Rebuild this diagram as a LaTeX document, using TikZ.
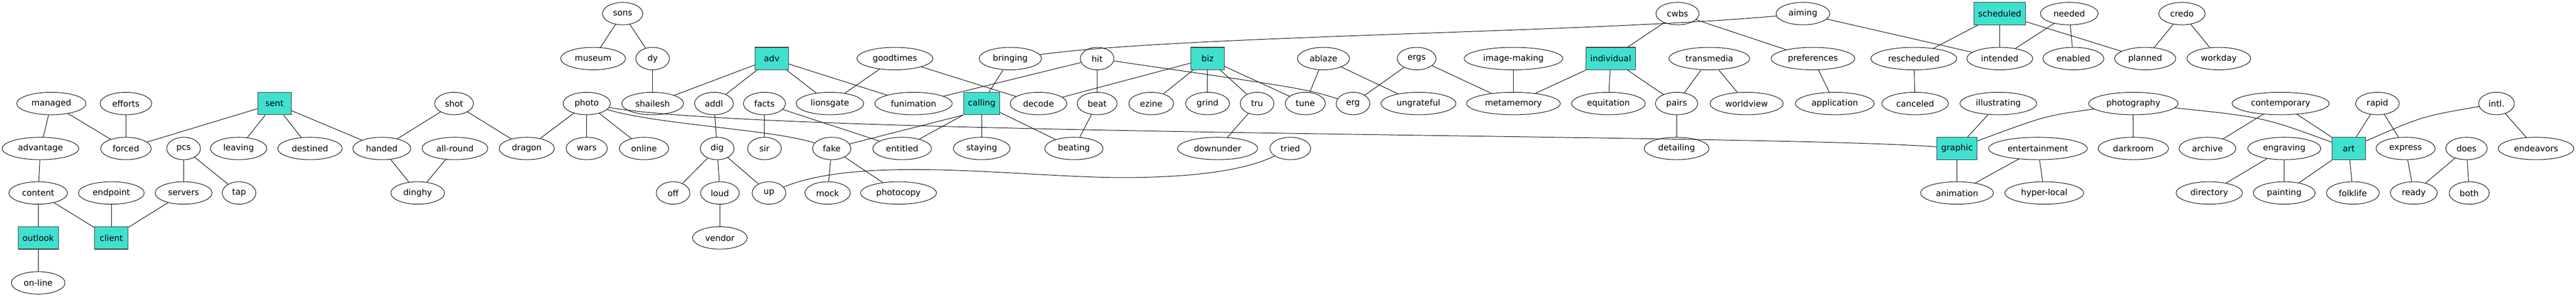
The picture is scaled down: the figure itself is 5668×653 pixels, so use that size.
\documentclass[tikz,border=0pt]{standalone}
\usepackage{fontspec}
\setmainfont{DejaVu Sans}
\usetikzlibrary{shapes.geometric}
\definecolor{turq}{HTML}{40E0D0}
\definecolor{boxline}{HTML}{333333}
\begin{document}
\begin{tikzpicture}[x=0.7289pt,y=-0.7289pt,
  font=\fontsize{13.5}{16}\selectfont,
  el/.style={draw, ellipse, minimum width=54pt, minimum height=36pt, inner xsep=7.4pt, inner ysep=0pt, line width=0.8pt},
  bx/.style={draw=boxline, fill=turq, rectangle, minimum width=54pt, minimum height=36pt, inner xsep=7.1pt, inner ysep=0pt, line width=0.9pt},
  lnk/.style={line width=0.8pt, black}]
\useasboundingbox (0,0) rectangle (5668,653);
\def\rA{30}\def\rB{129}\def\rC{228}\def\rD{327}\def\rE{425}\def\rF{524}\def\rG{623}
% row 1
\node[el] (sons) at (1370,\rA) {sons};
\node[el] (cwbs) at (3691,\rA) {cwbs};
\node[el] (aiming) at (3967,\rA) {aiming};
\node[bx] (scheduled) at (4400,\rA) {scheduled};
\node[el] (needed) at (4553,\rA) {needed};
\node[el] (credo) at (4801,\rA) {credo};
% row 2
\node[el] (museum) at (1305,\rB) {museum};
\node[el] (dy) at (1436,\rB) {dy};
\node[bx] (adv) at (1698,\rB) {adv};
\node[el] (goodtimes) at (1969,\rB) {goodtimes};
\node[el] (bringing) at (2223,\rB) {bringing};
\node[el] (hit) at (2414,\rB) {hit};
\node[bx] (biz) at (2657,\rB) {biz};
\node[el] (ablaze) at (2912,\rB) {ablaze};
\node[el] (ergs) at (3117,\rB) {ergs};
\node[el] (imagemaking) at (3330,\rB) {image-making};
\node[bx] (individual) at (3544,\rB) {individual};
\node[el] (transmedia) at (3761,\rB) {transmedia};
\node[el] (preferences) at (3989,\rB) {preferences};
\node[el] (rescheduled) at (4211,\rB) {rescheduled};
\node[el] (intended) at (4400,\rB) {intended};
\node[el] (enabled) at (4562,\rB) {enabled};
\node[el] (planned) at (4720,\rB) {planned};
\node[el] (workday) at (4882,\rB) {workday};
% row 3
\node[el] (managed) at (113,\rC) {managed};
\node[el] (efforts) at (277,\rC) {efforts};
\node[bx] (sent) at (604,\rC) {sent};
\node[el] (shot) at (999,\rC) {shot};
\node[el] (photo) at (1291,\rC) {photo};
\node[el] (shailesh) at (1436,\rC) {shailesh};
\node[el] (addl) at (1571,\rC) {addl};
\node[el] (facts) at (1682,\rC) {facts};
\node[el] (lionsgate) at (1826,\rC) {lionsgate};
\node[el] (funimation) at (2010,\rC) {funimation};
\node[bx] (calling) at (2160,\rC) {calling};
\node[el] (decode) at (2285,\rC) {decode};
\node[el] (beat) at (2414,\rC) {beat};
\node[el] (ezine) at (2533,\rC) {ezine};
\node[el] (grind) at (2657,\rC) {grind};
\node[el] (tru) at (2766,\rC) {tru};
\node[el] (tune) at (2872,\rC) {tune};
\node[el] (erg) at (2977,\rC) {erg};
\node[el] (ungrateful) at (3121,\rC) {ungrateful};
\node[el] (metamemory) at (3330,\rC) {metamemory};
\node[el] (equitation) at (3539,\rC) {equitation};
\node[el] (pairs) at (3689,\rC) {pairs};
\node[el] (worldview) at (3843,\rC) {worldview};
\node[el] (application) at (4037,\rC) {application};
\node[el] (canceled) at (4214,\rC) {canceled};
\node[el] (illustrating) at (4397,\rC) {illustrating};
\node[el] (photography) at (4694,\rC) {photography};
\node[el] (contemporary) at (5018,\rC) {contemporary};
\node[el] (rapid) at (5231,\rC) {rapid};
\node[el] (intl) at (5493,\rC) {intl.};
% row 4
\node[el] (advantage) at (89,\rD) {advantage};
\node[el] (forced) at (277,\rD) {forced};
\node[el] (pcs) at (404,\rD) {pcs};
\node[el] (leaving) at (525,\rD) {leaving};
\node[el] (destined) at (682,\rD) {destined};
\node[el] (handed) at (840,\rD) {handed};
\node[el] (allround) at (1001,\rD) {all-round};
\node[el] (dragon) at (1159,\rD) {dragon};
\node[el] (wars) at (1291,\rD) {wars};
\node[el] (online) at (1417,\rD) {online};
\node[el] (dig) at (1578,\rD) {dig};
\node[el] (sir) at (1682,\rD) {sir};
\node[el] (fake) at (1830,\rD) {fake};
\node[el] (entitled) at (1985,\rD) {entitled};
\node[el] (staying) at (2160,\rD) {staying};
\node[el] (beating) at (2363,\rD) {beating};
\node[el] (downunder) at (2679,\rD) {downunder};
\node[el] (tried) at (2839,\rD) {tried};
\node[el] (detailing) at (3689,\rD) {detailing};
\node[bx] (graphic) at (4306,\rD) {graphic};
\node[el] (entertainment) at (4484,\rD) {entertainment};
\node[el] (darkroom) at (4694,\rD) {darkroom};
\node[el] (archive) at (4857,\rD) {archive};
\node[el] (engraving) at (5026,\rD) {engraving};
\node[bx] (art) at (5168,\rD) {art};
\node[el] (express) at (5293,\rD) {express};
\node[el] (does) at (5427,\rD) {does};
\node[el] (endeavors) at (5580,\rD) {endeavors};
% row 5
\node[el] (content) at (84,\rE) {content};
\node[el] (endpoint) at (245,\rE) {endpoint};
\node[el] (servers) at (404,\rE) {servers};
\node[el] (tap) at (526,\rE) {tap};
\node[el] (dinghy) at (919,\rE) {dinghy};
\node[el] (off) at (1481,\rE) {off};
\node[el] (loud) at (1584,\rE) {loud};
\node[el] (up) at (1692,\rE) {up};
\node[el] (mock) at (1821,\rE) {mock};
\node[el] (photocopy) at (1977,\rE) {photocopy};
\node[el] (animation) at (4306,\rE) {animation};
\node[el] (hyperlocal) at (4498,\rE) {hyper-local};
\node[el] (directory) at (4861,\rE) {directory};
\node[el] (painting) at (5026,\rE) {painting};
\node[el] (folklife) at (5177,\rE) {folklife};
\node[el] (ready) at (5311,\rE) {ready};
\node[el] (both) at (5433,\rE) {both};
% row 6, 7
\node[bx] (outlook) at (84,\rF) {outlook};
\node[bx] (client) at (245,\rF) {client};
\node[el] (vendor) at (1584,\rF) {vendor};
\node[el] (online2) at (84,\rG) {on-line};

% straight edges
\foreach \a/\b in {managed/advantage, managed/forced, efforts/forced, sent/forced, sent/leaving, sent/destined, sent/handed,
  pcs/servers, pcs/tap, advantage/content, content/outlook, content/client, endpoint/client, servers/client, outlook/online2,
  shot/handed, shot/dragon, handed/dinghy, allround/dinghy, photo/dragon, photo/wars, photo/online,
  sons/museum, sons/dy, dy/shailesh, adv/shailesh, adv/addl, adv/lionsgate, adv/funimation, goodtimes/lionsgate, goodtimes/decode,
  addl/dig, facts/sir, facts/entitled, dig/off, dig/loud, dig/up, loud/vendor, fake/mock, fake/photocopy,
  calling/staying, calling/beating, bringing/calling, hit/funimation, hit/beat,
  biz/decode, biz/ezine, biz/grind, biz/tru, biz/tune, beat/beating, tru/downunder,
  ablaze/tune, ablaze/ungrateful, ergs/erg, ergs/metamemory, imagemaking/metamemory, individual/metamemory,
  cwbs/individual, cwbs/preferences, individual/equitation, individual/pairs, transmedia/pairs, transmedia/worldview,
  preferences/application, pairs/detailing, aiming/intended, rescheduled/canceled, scheduled/rescheduled, scheduled/intended,
  scheduled/planned, needed/intended, needed/enabled, credo/planned, credo/workday, illustrating/graphic,
  photography/darkroom, graphic/animation, entertainment/animation, entertainment/hyperlocal,
  contemporary/archive, contemporary/art, engraving/directory, engraving/painting, art/painting, art/folklife,
  rapid/art, rapid/express, intl/endeavors, express/ready, does/ready, does/both}
  \draw[lnk] (\a) -- (\b);

% curved / anchored edges
\draw[lnk] (calling.south west) -- (fake);
\draw[lnk] (calling.south west) -- (entitled);
\draw[lnk] (photo) .. controls (1700,300) and (3900,295) .. (graphic);
\draw[lnk] (photo) .. controls (1450,275) and (1700,285) .. (fake);
\draw[lnk] (bringing) .. controls (2600,78) and (3500,72) .. (aiming);
\draw[lnk] (hit) .. controls (2870,195) .. (erg);
\draw[lnk] (up) .. controls (1900,340) and (2250,391) .. (2470,391) .. controls (2650,391) and (2750,370) .. (tried);
\draw[lnk] (photography) .. controls (4500,255) .. (graphic);
\draw[lnk] (photography) .. controls (4980,258) .. (art);
\draw[lnk] (intl) .. controls (5330,256) .. (art);
\end{tikzpicture}
\end{document}
